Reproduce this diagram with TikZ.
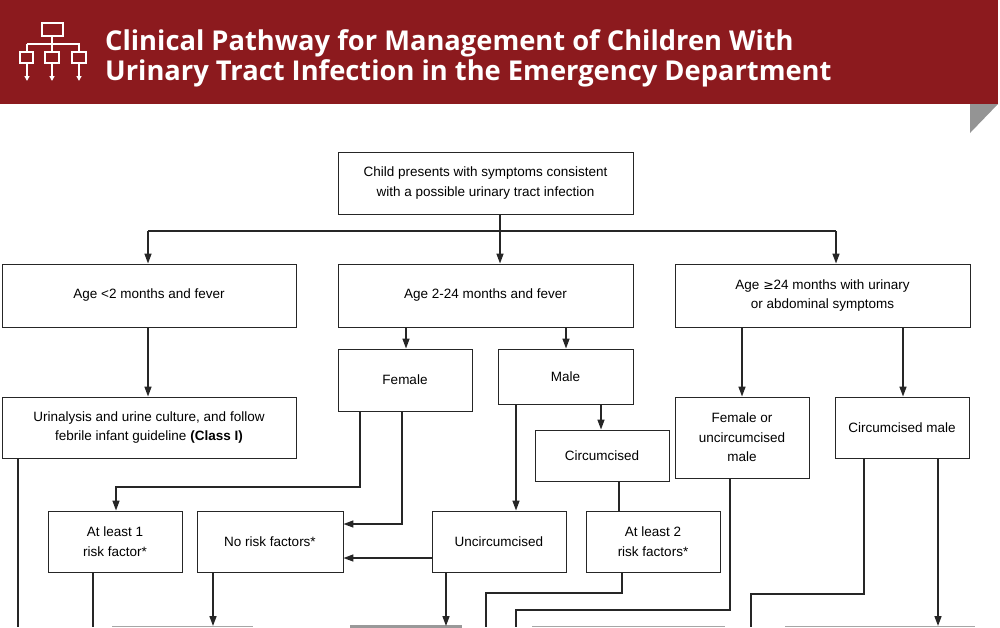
\documentclass[tikz,border=0pt]{standalone}
\usepackage{fontspec}
\setmainfont{Liberation Sans}
\newfontfamily\headfont{Open Sans}
\usetikzlibrary{arrows.meta}
\definecolor{hred}{HTML}{8C1A1E}
\begin{document}
\begin{tikzpicture}[x=1pt,y=-1pt,
  bx/.style={draw=black!85,line width=0.9pt,align=center,inner sep=0pt,font=\fontsize{13.5}{19.5}\selectfont},
  ar/.style={line width=1.5pt,black!85,-{Triangle[length=10pt,width=7pt]}},
  ln/.style={line width=1.5pt,black!85},
  ic/.style={white,line width=1.6pt}]
\useasboundingbox (0,0) rectangle (1000,627);
\fill[hred] (0,0) rectangle (998,104);
\fill[gray!80!black!70] (970,104) -- (998,104) -- (970,133) -- cycle;
% icon
\draw[ic] (42,23) rectangle (63,36);
\draw[ic] (52,36) -- (52,44) (27,44) -- (80,44) (27,44) -- (27,52) (52,44)--(52,52) (79,44)--(79,52);
\draw[ic] (20,52) rectangle (33,63) (45,52) rectangle (59,63) (72,52) rectangle (86,63);
\foreach \cx in {27,52,79}{\draw[ic,-{Triangle[length=5pt,width=5pt]}] (\cx,63) -- (\cx,81);}
\node[anchor=west,white,font=\headfont\bfseries\fontsize{27.3}{30}\selectfont,align=left,inner sep=0pt] (title) at (105,58)
 {Clinical Pathway for Management of Children With\\Urinary Tract Infection in the Emergency Department};
% boxes
\newcommand\bxx[6]{\node[bx,minimum width=#3-#2,minimum height=#5-#4] (#1) at ({(#2+#3)/2},{(#4+#5)/2}) {#6};}
\bxx{top}{338}{633}{152}{214}{Child presents with symptoms consistent\\with a possible urinary tract infection}
\bxx{a1}{2}{296}{264}{327}{Age <2 months and fever}
\bxx{a2}{338}{633}{264}{327}{Age 2-24 months and fever}
\bxx{a3}{675}{970}{264}{327}{Age \fontspec{DejaVu Sans}\fontsize{12.5}{19.5}\selectfont≥\fontspec{Liberation Sans}\fontsize{13.5}{19.5}\selectfont 24 months with urinary\\or abdominal symptoms}
\bxx{ua}{2}{296}{397}{458}{Urinalysis and urine culture, and follow\\febrile infant guideline \textbf{(Class I)}}
\bxx{fe}{338}{472}{349}{411}{Female}
\bxx{ma}{498}{633}{349}{404}{Male}
\bxx{ci}{535}{669}{430}{481}{Circumcised}
\bxx{un}{432}{566}{511}{572}{Uncircumcised}
\bxx{al1}{48}{182}{511}{572}{At least 1\\risk factor*}
\bxx{nr}{197}{343}{511}{572}{No risk factors*}
\bxx{al2}{586}{720}{511}{572}{At least 2\\risk factors*}
\bxx{fu}{675}{809}{397}{478}{Female or\\uncircumcised\\male}
\bxx{cm}{835}{969}{397}{458}{Circumcised male}
% bottom partial boxes
\coordinate (b1) at (213,626); \coordinate (b2) at (446,626);
\draw[gray!70,line width=0.8pt] (112,626.5) -- (253,626.5) (532,626.5) -- (725,626.5) (785,626.5) -- (975,626.5);
\fill[gray!80] (350,625) rectangle (462,628);
% connectors
\draw[ln] (top.south-|500,0) -- (500,231);
\draw[ln] (148,231) -- (836,231);
\draw[ar] (148,231) -- (a1.north-|148,0);
\draw[ar] (500,231) -- (a2.north-|500,0);
\draw[ar] (836,231) -- (a3.north-|836,0);
\draw[ar] (a1.south-|148,0) -- (ua.north-|148,0);
\draw[ar] (a2.south-|406,0) -- (fe.north-|406,0);
\draw[ar] (a2.south-|566,0) -- (ma.north-|566,0);
\draw[ar] (ma.south-|601,0) -- (ci.north-|601,0);
\draw[ar] (ma.south-|516,0) -- (un.north-|516,0);
\draw[ar] (fe.south-|360,0) -- (360,487) -- (116,487) -- (al1.north-|116,0);
\draw[ar] (fe.south-|402,0) -- (402,524) -- (nr.east|-0,524);
\draw[ar] (un.west|-0,558) -- (nr.east|-0,558);
\draw[ln] (ci.south-|619,0) -- (al2.north-|619,0);
\draw[ar] (a3.south-|742,0) -- (fu.north-|742,0);
\draw[ar] (a3.south-|903,0) -- (cm.north-|903,0);
\draw[ln] (ua.south-|18,0) -- (18,627);
\draw[ln] (al1.south-|93,0) -- (93,627);
\draw[ar] (nr.south-|213,0) -- (b1);
\draw[ar] (un.south-|446,0) -- (b2);
\draw[ln] (al2.south-|622,0) -- (622,593) -- (486,593) -- (486,627);
\draw[ln] (fu.south-|730,0) -- (730,610) -- (516,610) -- (516,627);
\draw[ln] (cm.south-|864,0) -- (864,594) -- (751,594) -- (751,627);
\draw[ar] (cm.south-|938,0) -- (938,626);
\end{tikzpicture}
\end{document}
